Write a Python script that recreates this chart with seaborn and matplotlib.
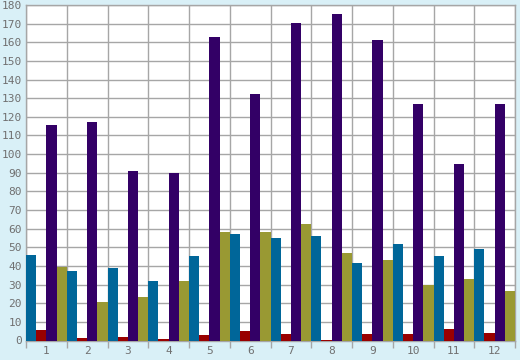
import matplotlib
matplotlib.use("Agg")
import matplotlib.pyplot as plt
from matplotlib.ticker import FixedLocator
import numpy as np
import pandas as pd
import seaborn as sns

# ── Data ──────────────────────────────────────────────────────────────────── #
categories = ["1", "2", "3", "4", "5", "6", "7", "8", "9", "10", "11", "12"]
series_names = ["A", "B", "C", "D"]
blue_vals   = [46, 37.4, 39, 32, 45.5, 57.3, 55.1, 56.2, 41.7, 51.9, 45.5, 49.2]
red_vals    = [5.7, 1.4, 2, 0.9, 3, 5.2, 3.6, 0.4, 3.6, 3.6, 6.3, 4.1]
purple_vals = [115.7, 117.4, 91, 90, 163, 132.4, 170.5, 175.4, 161.2, 127, 94.8, 127]
olive_vals  = [39.6, 20.4, 23.4, 32, 58.3, 58.3, 62.6, 47, 43.3, 30, 33, 26.7]
colors = ["#006699", "#990000", "#330066", "#999933"]

BG = "#d9f0f7"
GRID = "#a6a6a6"
TEXT = "#707070"

# ── Build long table ──────────────────────────────────────────────────────── #
rows = []
for name, vals in zip(series_names, [blue_vals, red_vals, purple_vals, olive_vals]):
    for cat, v in zip(categories, vals):
        rows.append({"cat": cat, "series": name, "value": v})
df = pd.DataFrame(rows)

# ── Plot ──────────────────────────────────────────────────────────────────── #
sns.set_style("white")
plt.rcParams["font.family"] = ["DejaVu Sans Mono"]

fig = plt.figure(figsize=(5.2, 3.6), dpi=100, facecolor=BG)
ax = fig.add_axes([26 / 520, 19.5 / 360, 489 / 520, 335.5 / 360])
ax.set_facecolor("white")

sns.barplot(data=df, x="cat", y="value", hue="series", order=categories,
            hue_order=series_names, palette=colors, width=1.0, gap=0,
            linewidth=0, saturation=1, legend=False, ax=ax, zorder=3)

ax.set_xlim(-0.5, len(categories) - 0.5)
ax.set_ylim(0, 180)
ax.set_yticks(np.arange(0, 181, 10))
ax.xaxis.set_minor_locator(FixedLocator(np.arange(-0.5, len(categories), 1.0)))

ax.grid(axis="y", which="major", color=GRID, linewidth=1, zorder=0)
ax.grid(axis="x", which="minor", color=GRID, linewidth=1, zorder=0)
ax.set_axisbelow(True)

ax.tick_params(axis="x", which="major", bottom=True, length=0, pad=4,
               labelsize=8, colors=TEXT)
ax.tick_params(axis="x", which="minor", bottom=True, length=5, width=1,
               color=GRID, direction="out")
ax.tick_params(axis="y", length=0, pad=3, labelsize=8, colors=TEXT)
ax.set_xlabel("")
ax.set_ylabel("")

for side in ["left", "right", "top", "bottom"]:
    ax.spines[side].set_color(GRID)
    ax.spines[side].set_linewidth(1)

fig.savefig("out.png", dpi=100, facecolor=BG)
